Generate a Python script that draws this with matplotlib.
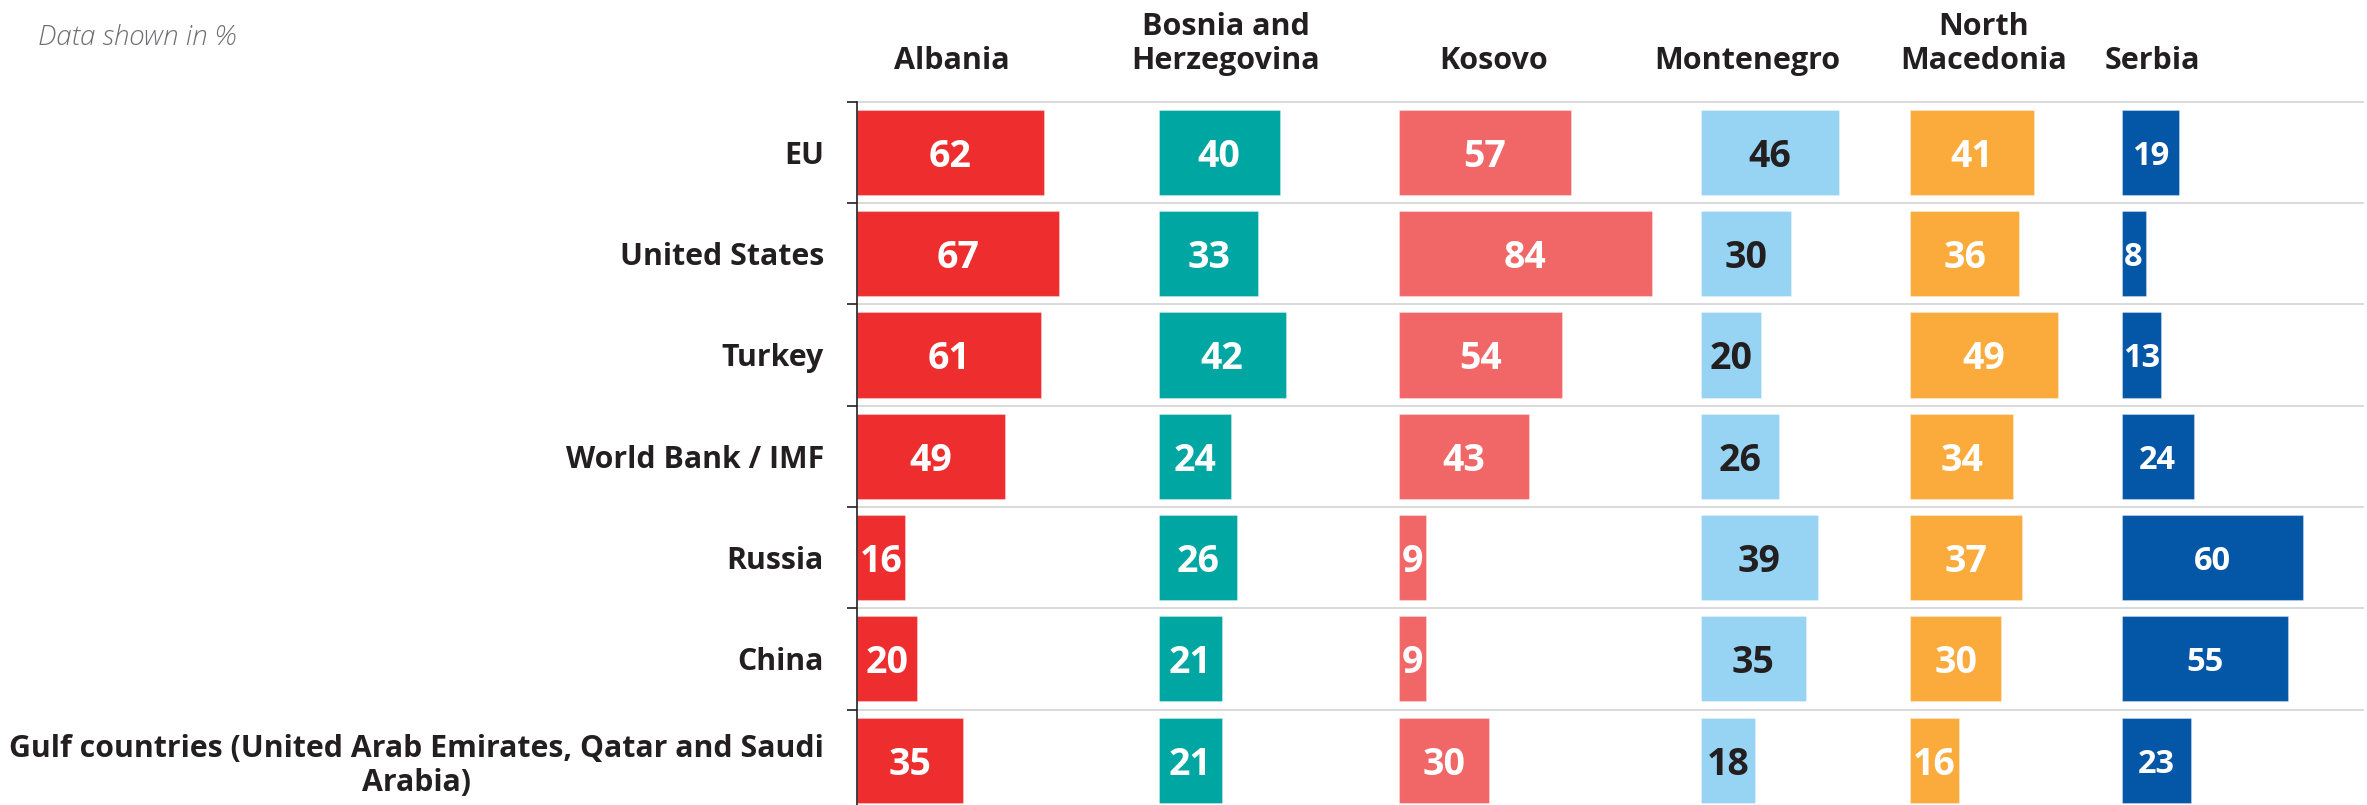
import matplotlib.pyplot as plt

plt.rcParams['font.family'] = ['Open Sans', 'DejaVu Sans']

# rows (actors) and columns (countries surveyed)
rows = ["EU", "United States", "Turkey", "World Bank / IMF", "Russia", "China",
        "Gulf countries (United Arab Emirates, Qatar and Saudi\nArabia)"]
countries = ["Albania", "Bosnia and\nHerzegovina", "Kosovo", "Montenegro",
             "North\nMacedonia", "Serbia"]

albania = [62, 67, 61, 49, 16, 20, 35]
bosnia = [40, 33, 42, 24, 26, 21, 21]
kosovo = [57, 84, 54, 43, 9, 9, 30]
montenegro = [46, 30, 20, 26, 39, 35, 18]
north_macedonia = [41, 36, 49, 34, 37, 30, 16]
serbia = [19, 8, 13, 24, 60, 55, 23]

values = [albania, bosnia, kosovo, montenegro, north_macedonia, serbia]
colors = ['#EE2D2F', '#00A6A1', '#F16767', '#97D3F3', '#FBAB3C', '#0457A6']
text_colors = ['white', 'white', 'white', '#231F20', 'white', 'white']
text_sizes = [27, 27, 27, 27, 27, 23.5]

# where each country's panel starts / its header sits, in x units
panel_starts = [0, 100, 179.5, 279.5, 349, 419]
header_x = [31.3, 122.2, 210.8, 294.9, 373.2, 429.1]

dark = '#231F20'

fig = plt.figure(figsize=(23.67, 8.05), dpi=100)
ax = fig.add_axes([857 / 2367, -0.0072, (2363 - 857) / 2367, 0.8808])

centers = [i + 0.5 for i in range(len(rows))]

for k, vals in enumerate(values):
    start = panel_starts[k]
    ax.barh(centers, vals, left=start, height=0.84, color=colors[k],
            edgecolor=(1, 1, 1, 0.3), linewidth=0.8, zorder=3)
    for yc, v in zip(centers, vals):
        ax.text(start + v / 2, yc, str(v), ha='center', va='center_baseline',
                color=text_colors[k], fontsize=text_sizes[k], fontweight='bold',
                zorder=4)
    ax.text(header_x[k], 1.036, countries[k], transform=ax.get_xaxis_transform(),
            ha='center', va='bottom', multialignment='center', fontsize=22,
            fontweight='bold', color=dark, linespacing=1.2)

ax.set_xlim(0, 499)
ax.set_ylim(len(rows), 0)

for b in range(len(rows) + 1):
    ax.axhline(b, color='#D9D9D9', lw=1.4, zorder=1, clip_on=False)

for s in ['top', 'right', 'bottom']:
    ax.spines[s].set_visible(False)
ax.spines['left'].set_color(dark)
ax.spines['left'].set_linewidth(1.2)
ax.spines['left'].set_zorder(5)

ax.set_xticks([])
ax.set_yticks(range(len(rows) + 1))
ax.set_yticklabels([])
ax.tick_params(axis='y', which='major', length=7.2, width=1.2, color=dark)
ax.set_yticks(centers, labels=rows, minor=True)
ax.tick_params(axis='y', which='minor', length=0, pad=23.8, labelsize=21.8,
               labelcolor=dark)
for lbl in ax.get_yticklabels(minor=True):
    lbl.set_fontweight('bold')
    lbl.set_multialignment('center')
    lbl.set_linespacing(1.2)

fig.text(38 / 2367, 1 - 45 / 805, "Data shown in %", ha='left', va='baseline',
         fontsize=20, style='italic', fontweight='light', color='#6D6E71')

fig.savefig('out.png', dpi=100)
